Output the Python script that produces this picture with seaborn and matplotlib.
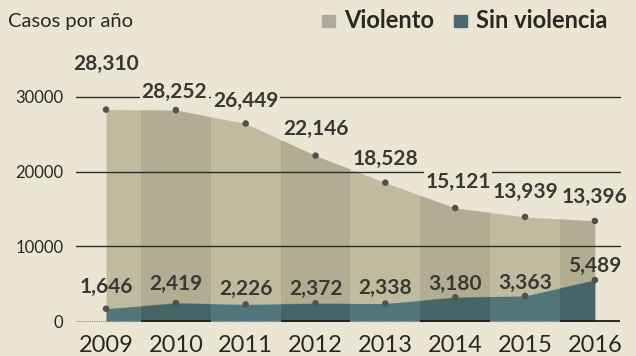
import matplotlib
matplotlib.use("Agg")
import matplotlib.pyplot as plt
import seaborn as sns
import pandas as pd
import numpy as np

years = ["2009", "2010", "2011", "2012", "2013", "2014", "2015", "2016"]
violento = [28310, 28252, 26449, 22146, 18528, 15121, 13939, 13396]
sin_violencia = [1646, 2419, 2226, 2372, 2338, 3180, 3363, 5489]
yticks = [0, 10000, 20000, 30000]

BG = "#ebe6d4"
TOP = "#bfbb9f"
BOT = "#517579"
DOT = "#55504b"
TXT = "#3b3733"

sns.set_theme(style="white")
plt.rcParams["font.family"] = ["Lato", "DejaVu Sans"]

df = pd.DataFrame({"x": np.arange(len(years)), "violento": violento,
                   "sin": sin_violencia})

fig = plt.figure(figsize=(6.36, 3.56), dpi=100, facecolor=BG)
ax = fig.add_axes([76/636, 1-321/356, (620-76)/636, (321-40)/356])
ax.set_facecolor(BG)
ax.set_xlim(-0.43, 7.36)
ax.set_ylim(0, 37630)

x = df["x"].values
top_poly = ax.fill_between(x, 0, df["violento"], color=TOP, lw=0, zorder=1)
bot_poly = ax.fill_between(x, 0, df["sin"], color=BOT, lw=0, zorder=2)

# alternating darker columns clipped to the areas
for i in range(1, len(years), 2):
    for poly, z in ((top_poly, 1.5), (bot_poly, 2.5)):
        band = ax.axvspan(i - 0.5, min(i + 0.5, x[-1]), color="black",
                          alpha=0.07 if z < 2 else 0.13, lw=0, zorder=z)
        band.set_clip_path(poly.get_paths()[0], ax.transData)

# gridlines
for yv in yticks[1:]:
    ax.axhline(yv, color="#2f2b28", lw=1.0, zorder=3, clip_on=False)
ax.axhline(0, color="#8a857c", lw=0.8, ls=(0, (1, 1)), zorder=3, clip_on=False)
for i in range(1, len(years), 2):
    ax.hlines(0, i - 0.5, min(i + 0.5, 7.36), color="#1f1c1a", lw=1.3,
              zorder=3, clip_on=False)

sns.scatterplot(data=df, x="x", y="violento", ax=ax, color=DOT, s=22,
                edgecolor="none", zorder=4, legend=False)
sns.scatterplot(data=df, x="x", y="sin", ax=ax, color=DOT, s=22,
                edgecolor="none", zorder=4, legend=False)

# value labels (offsets in points, centre of text above the point)
top_off = [33, 13, 16, 19, 17, 19, 18, 17]
top_dx = [0, -1, 0, 0, 0, 2, 0, 0]
for i, v in enumerate(violento):
    ax.annotate(f"{v:,}", (x[i], v), xytext=(top_dx[i], top_off[i]),
                textcoords="offset points", ha="center", va="center",
                fontsize=15, fontweight="bold", color=TXT, zorder=6,
                bbox=dict(boxstyle="square,pad=0.08", fc=BG, ec="none"))
bot_off = [15.5, 13.5, 11, 10, 11, 9.5, 9, 10]
for i, v in enumerate(sin_violencia):
    ax.annotate(f"{v:,}", (x[i], v), xytext=(0, bot_off[i]),
                textcoords="offset points", ha="center", va="center",
                fontsize=15, fontweight="bold", color=TXT, zorder=6)

ax.set_xticks(x)
ax.set_xticklabels(years, fontsize=17, color="#2a2724")
ax.set_yticks(yticks)
ax.set_yticklabels([str(t) for t in yticks], fontsize=12, color="#2a2724")
ax.tick_params(axis="both", length=0)
ax.tick_params(axis="x", pad=10)
ax.tick_params(axis="y", pad=9)
ax.set_xlabel("")
ax.set_ylabel("")
for s in ax.spines.values():
    s.set_visible(False)

fig.text(8/636, 1-21/356, "Casos por año", fontsize=14.5, color="#2a2724",
         va="center", ha="left")
# legend
fig.patches.append(plt.Rectangle((322/636, 1-27/356), 13/636, 12/356,
                                 transform=fig.transFigure, color="#aeab9d"))
fig.text(344/636, 1-21/356, "Violento", fontsize=17, fontweight="bold",
         color="#2a2724", va="center", ha="left")
fig.patches.append(plt.Rectangle((454/636, 1-27/356), 13/636, 12/356,
                                 transform=fig.transFigure, color="#4c6770"))
fig.text(476/636, 1-21/356, "Sin violencia", fontsize=17, fontweight="bold",
         color="#2a2724", va="center", ha="left")

fig.savefig("out.png", dpi=100, facecolor=BG)
